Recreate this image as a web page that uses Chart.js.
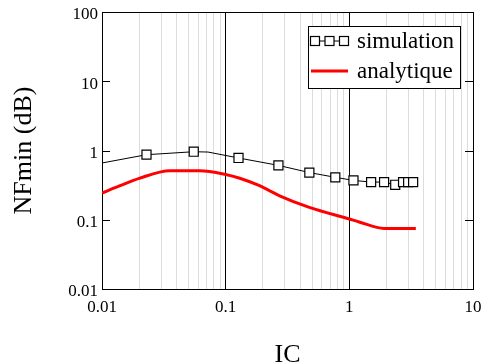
<!DOCTYPE html>
<html lang="fr">
<head>
  <meta charset="UTF-8">
  <title>NFmin vs IC</title>
  <style>
    body { margin: 0; background: #fff; }
    canvas { display: block; }
  </style>
</head>
<body>
  <canvas id="chart" width="482" height="364"></canvas>

  <script src="https://cdn.jsdelivr.net/npm/chart.js"></script>
  <script>
    // valeurs
    const simIC   = [0.01, 0.0229, 0.0552, 0.072, 0.127, 0.267, 0.475, 0.77, 1.08, 1.50, 1.91, 2.35, 2.72, 2.99, 3.28];
    const simNF   = [0.66, 0.87, 0.96, 0.95, 0.78, 0.61, 0.48, 0.41, 0.37, 0.35, 0.35, 0.32, 0.35, 0.35, 0.35];
    const simMark = [0, 1, 1, 0, 1, 1, 1, 1, 1, 1, 1, 1, 1, 1, 1];

    const anaIC = [0.01, 0.014, 0.020, 0.0354, 0.0617, 0.1, 0.13, 0.188, 0.22, 0.273, 0.475, 1.0, 1.2, 1.91, 3.45];
    const anaNF = [0.243, 0.31, 0.396, 0.51, 0.51, 0.45, 0.397, 0.31, 0.27, 0.222, 0.151, 0.1025, 0.093, 0.075, 0.075];

    const serif = "'Liberation Serif', 'Times New Roman', serif";

    function isDecade(v) {
      const l = Math.log10(v);
      return Math.abs(l - Math.round(l)) < 1e-6;
    }
    function decadeLabel(v) {
      return isDecade(v) ? String(Number(v.toPrecision(1))) : '';
    }

    // cadre + petites graduations internes sur l'axe y
    const cadre = {
      id: 'cadre',
      beforeDatasetsDraw(chart) {
        const {ctx, chartArea: a, scales} = chart;
        ctx.save();
        ctx.strokeStyle = '#000';
        ctx.lineWidth = 1;
        ctx.strokeRect(Math.round(a.left) + 0.5, Math.round(a.top) + 0.5,
                       Math.round(a.right - a.left), Math.round(a.bottom - a.top));
        ctx.beginPath();
        scales.y.ticks.forEach(t => {
          const y = Math.round(scales.y.getPixelForValue(t.value)) + 0.5;
          ctx.moveTo(a.left, y); ctx.lineTo(a.left + 8, y);
          ctx.moveTo(a.right, y); ctx.lineTo(a.right - 8, y);
        });
        ctx.stroke();
        ctx.restore();
      }
    };

    const legende = {
      id: 'legende',
      afterDraw(chart) {
        const {ctx, chartArea: a} = chart;
        const x0 = a.right - 165, y0 = a.top + 14;
        ctx.save();
        ctx.fillStyle = '#fff';
        ctx.fillRect(x0, y0, 152, 62);
        ctx.strokeStyle = '#000';
        ctx.lineWidth = 1;
        ctx.strokeRect(x0 + 0.5, y0 + 0.5, 152, 62);
        ctx.font = '23px ' + serif;
        ctx.textBaseline = 'alphabetic';
        chart.data.datasets.forEach((ds, i) => {
          const yl = y0 + 15 + i * 30;
          ctx.strokeStyle = ds.borderColor;
          ctx.lineWidth = ds.borderWidth;
          ctx.beginPath();
          ctx.moveTo(x0 + 3, yl); ctx.lineTo(x0 + 40, yl);
          ctx.stroke();
          if (ds.pointStyle === 'rect') {
            ctx.lineWidth = 1.2;
            [7, 21.5, 36].forEach(dx => {
              ctx.fillStyle = '#fff';
              ctx.fillRect(x0 + dx - 4.5, yl - 4.5, 9, 9);
              ctx.strokeRect(x0 + dx - 4.5, yl - 4.5, 9, 9);
            });
          }
          ctx.fillStyle = '#000';
          ctx.fillText(ds.label, x0 + 49, yl + 7);
        });
        ctx.restore();
      }
    };

    new Chart(document.getElementById('chart').getContext('2d'), {
      type: 'line',
      data: {
        datasets: [
          {
            label: 'simulation',
            data: simIC.map((x, i) => ({x, y: simNF[i]})),
            borderColor: '#000',
            borderWidth: 1,
            pointStyle: 'rect',
            pointRadius: simMark.map(m => m ? 6.4 : 0),
            pointBackgroundColor: '#fff',
            pointBorderColor: '#000',
            pointBorderWidth: 1.2,
            tension: 0
          },
          {
            label: 'analytique',
            data: anaIC.map((x, i) => ({x, y: anaNF[i]})),
            borderColor: '#ff0000',
            borderWidth: 3,
            pointRadius: 0,
            tension: 0.2,
            cubicInterpolationMode: 'monotone'
          }
        ]
      },
      options: {
        responsive: false,
        animation: false,
        events: [],
        layout: { padding: { top: 12, right: 9, left: 0, bottom: 0 } },
        plugins: { legend: { display: false }, tooltip: { enabled: false } },
        scales: {
          x: {
            type: 'logarithmic',
            min: 0.01,
            max: 10,
            afterBuildTicks(s) {
              s.ticks = s.ticks.filter(t => {
                const m = t.value / Math.pow(10, Math.floor(Math.log10(t.value) + 1e-9));
                return Math.abs(m - 1.5) > 1e-6;
              });
            },
            afterFit(s) { s.height = 75; s.paddingLeft = 0; s.paddingRight = 0; },
            border: { display: false },
            grid: {
              drawTicks: false,
              lineWidth: 1,
              color: c => (c.tick && isDecade(c.tick.value)) ? '#000' : '#dcdcdc'
            },
            ticks: {
              autoSkip: false,
              maxRotation: 0,
              padding: 8,
              color: '#000',
              font: { family: serif, size: 17 },
              callback: v => decadeLabel(v)
            },
            title: {
              display: true,
              text: 'IC',
              color: '#000',
              font: { family: serif, size: 26, lineHeight: 0.7 },
              padding: { top: 0, bottom: 0 }
            }
          },
          y: {
            type: 'logarithmic',
            min: 0.01,
            max: 100,
            afterBuildTicks(s) { s.ticks = s.ticks.filter(t => isDecade(t.value)); },
            afterFit(s) { s.width = 102; s.paddingTop = 0; s.paddingBottom = 0; },
            border: { display: false },
            grid: { display: false, drawTicks: false },
            ticks: {
              autoSkip: false,
              padding: 4,
              labelOffset: 3,
              color: '#000',
              font: { family: serif, size: 17 },
              callback: v => decadeLabel(v)
            },
            title: {
              display: true,
              text: 'NFmin (dB)',
              color: '#000',
              font: { family: serif, size: 26, lineHeight: 1.2 },
              padding: { top: 9, bottom: 0 }
            }
          }
        }
      },
      plugins: [cadre, legende]
    });
  </script>
</body>
</html>
